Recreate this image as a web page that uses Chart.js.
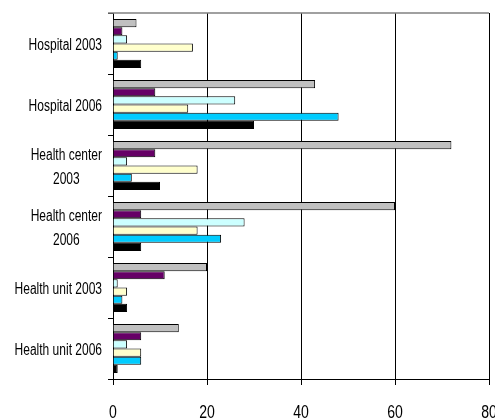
<!DOCTYPE html>
<html>
<head>
<meta charset="utf-8">
<script src="https://cdn.jsdelivr.net/npm/chart.js@4/dist/chart.umd.min.js"></script>
<style>
  html, body { margin: 0; padding: 0; background: #fff; overflow: hidden; width: 495px; height: 419px; }
  canvas { display: block; }
</style>
</head>
<body>
<canvas id="c" width="495" height="419"></canvas>
<script>
// Facility categories (multi-line where the label wraps)
const categories = [
  'Hospital 2003',
  'Hospital 2006',
  ['Health center', '2003'],
  ['Health center', '2006'],
  'Health unit 2003',
  'Health unit 2006'
];

// Series values, one array per series
const seriesGray   = [5, 43, 72, 60, 20, 14];
const seriesPurple = [2, 9, 9, 6, 11, 6];
const seriesCyan   = [3, 26, 3, 28, 1, 3];
const seriesYellow = [17, 16, 18, 18, 3, 6];
const seriesBlue   = [1, 48, 4, 23, 2, 6];
const seriesBlack  = [6, 30, 10, 6, 3, 1];

// Value axis ticks
const xTicks = [0, 20, 40, 60, 80];

const FONT = '"Liberation Sans", Arial, sans-serif';

const series = [
  { label: 'Series 1', data: seriesGray,   color: '#C0C0C0' },
  { label: 'Series 2', data: seriesPurple, color: '#660066' },
  { label: 'Series 3', data: seriesCyan,   color: '#CCFFFF' },
  { label: 'Series 4', data: seriesYellow, color: '#FFFFCC' },
  { label: 'Series 5', data: seriesBlue,   color: '#00CCFF' },
  { label: 'Series 6', data: seriesBlack,  color: '#000000' }
];

// Text squeezed horizontally to give a condensed face
function narrowText(ctx, text, x, y, squeeze) {
  ctx.save();
  ctx.translate(x, y);
  ctx.scale(squeeze, 1);
  ctx.fillText(text, 0, 0);
  ctx.restore();
}

// Category labels: right-aligned block, each line centred within the block
const yLabelPlugin = {
  id: 'yLabels',
  afterDraw(chart) {
    const ctx = chart.ctx;
    const y = chart.scales.y;
    const squeeze = 0.75;
    const lineH = 24.5;
    const rightEdge = 102;
    ctx.save();
    ctx.font = '16px ' + FONT;
    ctx.fillStyle = '#000';
    ctx.textBaseline = 'middle';
    ctx.textAlign = 'center';
    categories.forEach((lab, i) => {
      const lines = Array.isArray(lab) ? lab : [lab];
      const w = squeeze * Math.max(...lines.map(l => ctx.measureText(l).width));
      const cx = rightEdge - w / 2;
      const cy = y.getPixelForValue(i) + 2;
      const y0 = cy - (lines.length - 1) * lineH / 2;
      lines.forEach((l, k) => narrowText(ctx, l, cx, y0 + k * lineH, squeeze));
    });
    ctx.restore();
  }
};

// Value-axis tick labels in the condensed face
const xLabelPlugin = {
  id: 'xLabels',
  afterDraw(chart) {
    const ctx = chart.ctx;
    const x = chart.scales.x;
    ctx.save();
    ctx.font = '18px ' + FONT;
    ctx.fillStyle = '#000';
    ctx.textBaseline = 'alphabetic';
    ctx.textAlign = 'center';
    xTicks.forEach(v => narrowText(ctx, String(v), x.getPixelForValue(v), 418, 0.78));
    ctx.restore();
  }
};

// Grey top edge of the plot area
const topEdgePlugin = {
  id: 'topEdge',
  afterDraw(chart) {
    const { ctx, chartArea } = chart;
    ctx.save();
    ctx.strokeStyle = '#808080';
    ctx.lineWidth = 1.5;
    ctx.beginPath();
    ctx.moveTo(chartArea.left - 5, chartArea.top);
    ctx.lineTo(chartArea.right, chartArea.top);
    ctx.stroke();
    ctx.restore();
  }
};

new Chart(document.getElementById('c'), {
  type: 'bar',
  data: {
    labels: categories,
    datasets: series.map(s => ({
      label: s.label,
      data: s.data,
      backgroundColor: s.color,
      borderColor: '#000',
      borderWidth: 1,
      categoryPercentage: 0.8,
      barPercentage: 1.0
    }))
  },
  options: {
    indexAxis: 'y',
    responsive: false,
    animation: false,
    devicePixelRatio: 1,
    layout: { padding: { top: 13, left: 0, right: 6, bottom: 0 } },
    plugins: {
      legend: { display: false },
      tooltip: { enabled: false }
    },
    scales: {
      x: {
        min: 0,
        max: 80,
        afterBuildTicks(scale) { scale.ticks = xTicks.map(v => ({ value: v })); },
        afterFit(scale) { scale.height = 40; },
        grid: { color: '#000', lineWidth: 1, tickLength: 6, drawTicks: true },
        border: { display: true, color: '#000', width: 1 },
        ticks: { display: false }
      },
      y: {
        afterFit(scale) { scale.width = 113; },
        grid: { offset: true, drawOnChartArea: false, color: '#000', tickLength: 5 },
        border: { display: true, color: '#000', width: 1 },
        ticks: { display: false }
      }
    }
  },
  plugins: [yLabelPlugin, xLabelPlugin, topEdgePlugin]
});
</script>
</body>
</html>
